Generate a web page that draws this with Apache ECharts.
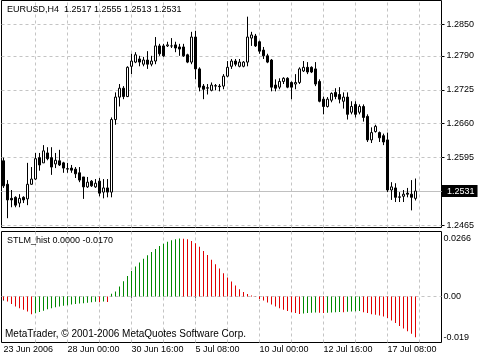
<!DOCTYPE html>
<html><head><meta charset="utf-8">
<script src="https://cdn.jsdelivr.net/npm/echarts@6/dist/echarts.min.js"></script>
<style>html,body{margin:0;padding:0;background:#fff}#c{width:480px;height:360px}</style>
</head><body><div id="c"></div>
<script>
// ---------- data (EURUSD H4, 23 Jun 2006 -> 18 Jul 2006) ----------
const opens = [1.2589,1.2544,1.2517,1.2519,1.2508,1.2519,1.2516,1.2544,1.2554,1.2595,
1.2585,1.2604,1.2595,1.2583,1.2589,1.2585,1.2573,1.2575,1.2573,1.2566,
1.2558,1.2539,1.2550,1.2539,1.2550,1.2529,1.2537,1.2529,1.2668,1.2711,
1.2728,1.2712,1.2770,1.2778,1.2784,1.2774,1.2782,1.2774,1.2780,1.2809,
1.2809,1.2809,1.2809,1.2811,1.2807,1.2807,1.2792,1.2778,1.2826,1.2765,
1.2732,1.2728,1.2724,1.2732,1.2732,1.2732,1.2751,1.2770,1.2780,1.2770,
1.2770,1.2778,1.2824,1.2828,1.2817,1.2801,1.2790,1.2782,1.2734,1.2730,
1.2741,1.2747,1.2739,1.2736,1.2739,1.2761,1.2768,1.2768,1.2765,1.2741,
1.2707,1.2693,1.2705,1.2720,1.2716,1.2703,1.2711,1.2682,1.2697,1.2682,
1.2693,1.2674,1.2629,1.2645,1.2643,1.2637,1.2629,1.2533,1.2537,1.2519,
1.2521,1.2527,1.2525,1.2517];
const closes = [1.2541,1.2514,1.2514,1.2504,1.2517,1.2514,1.2544,1.2554,1.2593,1.2581,
1.2608,1.2593,1.2577,1.2590,1.2581,1.2575,1.2574,1.2571,1.2564,1.2552,
1.2539,1.2548,1.2541,1.2546,1.2527,1.2537,1.2529,1.2668,1.2711,1.2728,
1.2712,1.2768,1.2780,1.2792,1.2778,1.2782,1.2774,1.2780,1.2809,1.2794,
1.2790,1.2811,1.2809,1.2805,1.2803,1.2790,1.2778,1.2826,1.2765,1.2730,
1.2726,1.2729,1.2734,1.2733,1.2731,1.2751,1.2768,1.2780,1.2774,1.2778,
1.2778,1.2826,1.2830,1.2809,1.2799,1.2790,1.2778,1.2730,1.2728,1.2741,
1.2747,1.2730,1.2730,1.2739,1.2765,1.2768,1.2759,1.2759,1.2736,1.2703,
1.2693,1.2707,1.2718,1.2712,1.2707,1.2711,1.2678,1.2693,1.2678,1.2693,
1.2672,1.2629,1.2643,1.2655,1.2633,1.2625,1.2533,1.2539,1.2519,1.2520,
1.2525,1.2525,1.2519,1.2531];
const lows = [1.2537,1.2479,1.2500,1.2500,1.2500,1.2508,1.2504,1.2543,1.2552,1.2570,
1.2585,1.2590,1.2562,1.2575,1.2579,1.2566,1.2566,1.2566,1.2556,1.2548,
1.2516,1.2537,1.2539,1.2537,1.2521,1.2517,1.2519,1.2519,1.2658,1.2693,
1.2707,1.2711,1.2755,1.2776,1.2770,1.2770,1.2765,1.2770,1.2774,1.2790,
1.2788,1.2807,1.2805,1.2797,1.2790,1.2788,1.2776,1.2774,1.2745,1.2722,
1.2707,1.2716,1.2722,1.2724,1.2722,1.2726,1.2749,1.2765,1.2770,1.2768,
1.2768,1.2770,1.2809,1.2807,1.2794,1.2784,1.2776,1.2722,1.2722,1.2726,
1.2736,1.2728,1.2707,1.2726,1.2736,1.2759,1.2755,1.2757,1.2732,1.2701,
1.2678,1.2691,1.2701,1.2707,1.2699,1.2689,1.2668,1.2678,1.2672,1.2678,
1.2664,1.2625,1.2623,1.2643,1.2625,1.2619,1.2529,1.2514,1.2510,1.2510,
1.2510,1.2519,1.2494,1.2513];
const highs = [1.2595,1.2552,1.2533,1.2521,1.2525,1.2521,1.2585,1.2577,1.2604,1.2604,
1.2619,1.2615,1.2615,1.2604,1.2610,1.2587,1.2585,1.2581,1.2577,1.2577,
1.2558,1.2558,1.2552,1.2554,1.2556,1.2554,1.2554,1.2672,1.2720,1.2736,
1.2732,1.2770,1.2794,1.2797,1.2790,1.2788,1.2799,1.2790,1.2826,1.2813,
1.2813,1.2817,1.2824,1.2817,1.2813,1.2813,1.2794,1.2836,1.2838,1.2768,
1.2736,1.2736,1.2739,1.2736,1.2736,1.2755,1.2780,1.2784,1.2784,1.2784,
1.2780,1.2865,1.2836,1.2832,1.2819,1.2807,1.2794,1.2784,1.2745,1.2747,
1.2749,1.2749,1.2741,1.2755,1.2768,1.2780,1.2778,1.2770,1.2778,1.2745,
1.2712,1.2711,1.2720,1.2728,1.2730,1.2720,1.2720,1.2703,1.2703,1.2697,
1.2697,1.2678,1.2653,1.2658,1.2645,1.2641,1.2643,1.2548,1.2546,1.2529,
1.2533,1.2537,1.2552,1.2555];
const histValues = [-0.0015,-0.0023,-0.0035,-0.0046,-0.0054,-0.0061,-0.0069,-0.0081,-0.0077,-0.0071,
-0.0065,-0.0059,-0.0054,-0.0049,-0.0046,-0.0043,-0.0040,-0.0037,-0.0035,-0.0032,
-0.0031,-0.0029,-0.0026,-0.0024,-0.0026,-0.0023,-0.0025,0.0012,0.0023,0.0046,
0.0070,0.0094,0.0117,0.0138,0.0156,0.0173,0.0189,0.0204,0.0218,0.0231,
0.0242,0.0251,0.0258,0.0263,0.0266,0.0265,0.0262,0.0255,0.0244,0.0228,
0.0209,0.0190,0.0169,0.0148,0.0128,0.0107,0.0087,0.0069,0.0050,0.0033,
0.0020,0.0011,0.0005,0.0001,-0.0011,-0.0018,-0.0028,-0.0037,-0.0046,-0.0054,
-0.0061,-0.0067,-0.0072,-0.0076,-0.0080,-0.0078,-0.0076,-0.0075,-0.0073,-0.0075,
-0.0076,-0.0075,-0.0073,-0.0072,-0.0071,-0.0072,-0.0070,-0.0069,-0.0068,-0.0067,
-0.0072,-0.0076,-0.0081,-0.0084,-0.0087,-0.0092,-0.0099,-0.0110,-0.0122,-0.0135,
-0.0147,-0.0159,-0.0171,-0.0187];
const bidPrice = 1.2531;
const stlmBuffers = ['0.0000', '-0.0170'];
const priceGridValues = [1.2465, 1.2530, 1.2595, 1.2660, 1.2725, 1.2790, 1.2850];
const priceTickValues = [1.2465, 1.2595, 1.2660, 1.2725, 1.2790, 1.2850];
const priceTickLabels = ['1.2465', '1.2595', '1.2660', '1.2725', '1.2790', '1.2850'];
const histTickValues = [0.0266, 0, -0.019];
const histTickLabels = ['0.0266', '0.00', '-0.019'];
const dateLabels = ['23 Jun 2006', '28 Jun 00:00', '30 Jun 16:00', '5 Jul 08:00', '10 Jul 00:00', '12 Jul 16:00', '17 Jul 08:00'];
const dateLabelEvery = 16;   // bars between date labels
const gridEvery = 8;         // bars between vertical grid lines
const slotCount = 110;       // bar slots across the chart width

// ---------- build ----------
const FONT = 'Liberation Sans';
const GREEN = '#008800', RED = '#e00000', GRIDC = '#c4c4c4';
const categories = Array.from({length: slotCount}, (_, i) => String(i));
const candleData = opens.map((o, i) => [o, closes[i], lows[i], highs[i]]);
const histData = histValues.map((v, i) => ({
  value: v,
  itemStyle: {color: (i > 0 && v > histValues[i - 1]) ? GREEN : RED}
}));
const isDateTick = (i) => i % dateLabelEvery === 0 && i / dateLabelEvery < dateLabels.length;
const f4 = v => v.toFixed(4);
const gridLineStyle = {color: GRIDC, type: [3, 3], width: 1};
const vGrid = () => {
  const out = [];
  for (let i = gridEvery; i < slotCount; i += gridEvery) out.push({xAxis: i});
  return out;
};

const chart = echarts.init(document.getElementById('c'), null, {renderer: 'canvas'});
chart.setOption({
  animation: false,
  title: [
    {text: 'EURUSD,H4  ' + [opens[103], highs[103], lows[103], closes[103]].map(f4).join(' '),
     left: 7, top: 5, padding: 0,
     textStyle: {fontFamily: FONT, fontSize: 9, fontWeight: 'normal', color: '#000'}},
    {text: 'STLM_hist ' + stlmBuffers.join(' '),
     left: 7, top: 236, padding: 0,
     textStyle: {fontFamily: FONT, fontSize: 9, fontWeight: 'normal', color: '#000'}},
    {text: 'MetaTrader, \u00A9 2001-2006 MetaQuotes Software Corp.',
     left: 5, top: 329, padding: 0,
     textStyle: {fontFamily: FONT, fontSize: 10, fontWeight: 'normal', color: '#000'}}
  ],
  grid: [
    {left: 1.5, top: 0.5, width: 440, height: 227, show: true, borderColor: '#000', borderWidth: 1},
    {left: 1.5, top: 231.5, width: 440, height: 111, show: true, borderColor: '#000', borderWidth: 1}
  ],
  xAxis: [
    {type: 'category', gridIndex: 0, data: categories, boundaryGap: true,
     axisLine: {show: false}, axisTick: {show: false}, axisLabel: {show: false}, splitLine: {show: false}},
    {type: 'category', gridIndex: 1, data: categories, boundaryGap: true,
     axisLine: {show: false},
     axisTick: {show: true, alignWithLabel: true, interval: (i) => isDateTick(i), length: 4, lineStyle: {color: '#000'}},
     axisLabel: {show: true, interval: (i) => isDateTick(i), formatter: (v, i) => dateLabels[i / dateLabelEvery],
                 align: 'left', margin: 3, fontFamily: FONT, fontSize: 9, color: '#000'},
     splitLine: {show: false}}
  ],
  yAxis: [
    {type: 'value', gridIndex: 0, position: 'right', min: 1.24612, max: 1.28960, scale: true,
     splitLine: {show: false}, axisLine: {show: false},
     axisTick: {show: true, customValues: priceTickValues, length: 3, lineStyle: {color: '#000'}},
     axisLabel: {show: true, customValues: priceTickValues, margin: 5,
                 formatter: v => priceTickLabels[priceTickValues.indexOf(v)],
                 fontFamily: FONT, fontSize: 9, color: '#000'}},
    {type: 'value', gridIndex: 1, position: 'right', min: -0.0211, max: 0.0298,
     splitLine: {show: false}, axisLine: {show: false}, axisTick: {show: false},
     axisLabel: {show: true, customValues: histTickValues, margin: 2,
                 formatter: v => histTickLabels[histTickValues.indexOf(v)],
                 fontFamily: FONT, fontSize: 9, color: '#000'}}
  ],
  series: [
    {type: 'bar', xAxisIndex: 1, yAxisIndex: 1, data: histData, barWidth: 1, z: 3,
     markLine: {silent: true, z: 1, precision: 6, symbol: ['none', 'none'], label: {show: false},
                lineStyle: gridLineStyle, emphasis: {disabled: true},
                data: [{yAxis: 0}].concat(vGrid())}},
    {type: 'candlestick', xAxisIndex: 0, yAxisIndex: 0, data: candleData, barWidth: 3, z: 3,
     itemStyle: {color: '#fff', color0: '#000', borderColor: '#000', borderColor0: '#000', borderWidth: 1},
     markLine: {silent: true, z: 1, precision: 6, symbol: ['none', 'none'], label: {show: false},
                lineStyle: gridLineStyle, emphasis: {disabled: true},
                data: priceGridValues.map(v => ({yAxis: v})).concat(vGrid())}},
    {type: 'line', xAxisIndex: 0, yAxisIndex: 0, data: [], z: 2, silent: true,
     markLine: {silent: true, z: 2, precision: 6, symbol: ['none', 'none'],
                lineStyle: {color: '#c0c0c0', type: 'solid', width: 1},
                emphasis: {disabled: true},
                label: {show: true, position: 'end', distance: 0.5, formatter: () => f4(bidPrice),
                        backgroundColor: '#000', color: '#fff', fontFamily: FONT, fontSize: 9,
                        lineHeight: 10, padding: [1, 3, 1, 5]},
                data: [{yAxis: bidPrice}]}}
  ]
});
</script></body></html>
